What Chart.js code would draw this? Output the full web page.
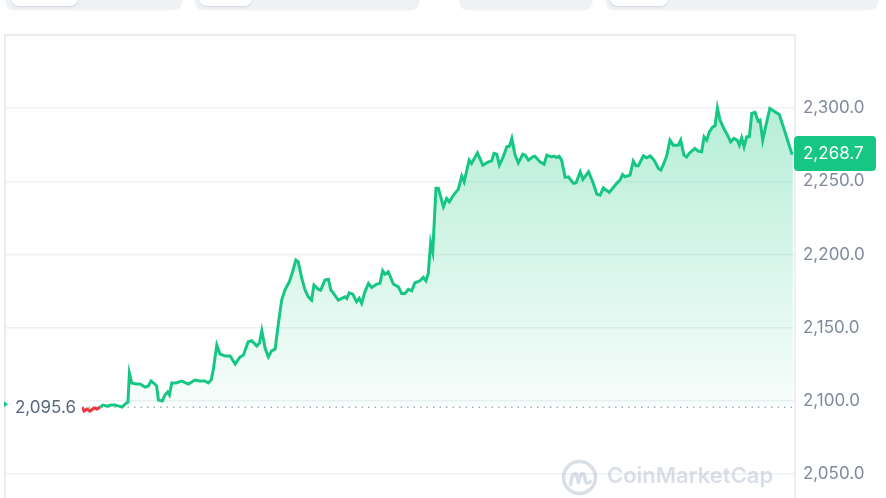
<!DOCTYPE html>
<html>
<head>
<meta charset="utf-8">
<script src="https://cdn.jsdelivr.net/npm/chart.js@4.4.1/dist/chart.umd.min.js"></script>
<style>
  body { margin: 0; background: #fff; font-family: Inter, "Noto Sans", sans-serif; }
  #wrap { position: relative; width: 886px; height: 498px; overflow: hidden; }
  canvas { position: absolute; left: 0; top: 0; }
  .pill { position: absolute; top: -20px; height: 29px; background: #eff2f5; border-radius: 8px; box-shadow: 0 1px 2px rgba(88,102,126,0.12); }
  .tab { position: absolute; top: -20px; height: 26px; background: #fff; border-radius: 8px; box-shadow: 0 1px 2px rgba(88,102,126,0.2); }
</style>
</head>
<body>
<div id="wrap">
  <canvas id="priceCanvas" width="886" height="498"></canvas>
  <div class="pill" style="left:6px;width:176px"></div>
  <div class="tab" style="left:11px;width:67px"></div>
  <div class="pill" style="left:195px;width:224px"></div>
  <div class="tab" style="left:199px;width:53px"></div>
  <div class="pill" style="left:460px;width:132px"></div>
  <div class="pill" style="left:606px;width:272px"></div>
  <div class="tab" style="left:610px;width:58px"></div>
</div>
<script>
// hours since open
const times = [
  0, 0.07, 0.17, 0.27, 0.41, 0.51, 0.61, 0.71, 0.84, 0.98,
  1.11, 1.25, 1.35, 1.49, 1.55, 1.60, 1.68, 1.82, 1.96, 2.13,
  2.24, 2.33, 2.46, 2.52, 2.58, 2.71, 2.80, 2.89, 2.95, 3.03,
  3.17, 3.37, 3.59, 3.81, 3.98, 4.15, 4.26, 4.36, 4.43, 4.55,
  4.66, 4.83, 5.00, 5.17, 5.33, 5.45, 5.61, 5.73, 5.90, 5.99,
  6.07, 6.18, 6.29, 6.40, 6.52, 6.63, 6.74, 6.85, 7.00, 7.11,
  7.22, 7.30, 7.42, 7.53, 7.64, 7.75, 7.83, 7.98, 8.06, 8.20,
  8.32, 8.40, 8.48, 8.65, 8.77, 8.88, 8.94, 9.02, 9.14, 9.27,
  9.36, 9.44, 9.55, 9.67, 9.78, 9.95, 10.06, 10.15, 10.23, 10.34,
  10.51, 10.68, 10.79, 10.90, 11.02, 11.13, 11.24, 11.41, 11.52, 11.61,
  11.69, 11.77, 11.84, 11.95, 12.03, 12.20, 12.31, 12.40, 12.54, 12.70,
  12.82, 12.90, 13.07, 13.15, 13.35, 13.53, 13.72, 13.83, 13.91, 14.00,
  14.09, 14.22, 14.34, 14.43, 14.51, 14.62, 14.73, 14.88, 14.96, 15.07,
  15.22, 15.29, 15.46, 15.60, 15.69, 15.86, 15.94, 16.03, 16.11, 16.19,
  16.31, 16.42, 16.59, 16.68, 16.82, 16.91, 17.10, 17.24, 17.38, 17.49,
  17.60, 17.80, 18.05, 18.16, 18.25, 18.33, 18.50, 18.61, 18.70, 18.78,
  18.95, 19.06, 19.18, 19.31, 19.46, 19.54, 19.62, 19.74, 19.85, 19.96,
  20.13, 20.21, 20.32, 20.41, 20.50, 20.69, 20.80, 20.92, 21.00, 21.09,
  21.18, 21.29, 21.37, 21.45, 21.54, 21.67, 21.82, 21.90, 22.01, 22.12,
  22.19, 22.27, 22.35, 22.44, 22.53, 22.61, 22.72, 22.83, 22.89, 22.98,
  23.09, 23.22, 23.39, 23.54, 23.73, 23.96, 24.00
];
const prices = [
  2095.6, 2093.0, 2094.4, 2093.0, 2095.1, 2094.4, 2095.8, 2097.1, 2096.4, 2097.1,
  2097.1, 2096.4, 2095.8, 2098.4, 2099.0, 2118.9, 2112.2, 2111.5, 2111.5, 2109.4,
  2110.1, 2113.5, 2111.5, 2110.1, 2100.5, 2099.9, 2104.0, 2106.0, 2104.0, 2112.2,
  2112.2, 2113.5, 2111.5, 2114.2, 2113.5, 2113.5, 2112.2, 2114.2, 2121.0, 2138.1,
  2132.0, 2130.6, 2130.6, 2125.1, 2129.9, 2131.3, 2140.4, 2141.1, 2137.4, 2139.5,
  2147.9, 2136.1, 2130.1, 2134.2, 2135.4, 2153.1, 2168.9, 2175.7, 2181.4, 2188.2,
  2196.2, 2195.0, 2183.7, 2175.7, 2171.1, 2168.9, 2179.1, 2176.2, 2175.7, 2182.5,
  2183.0, 2175.7, 2173.8, 2168.9, 2170.0, 2171.1, 2170.0, 2173.8, 2172.9, 2167.7,
  2170.0, 2166.6, 2174.5, 2180.3, 2177.5, 2179.8, 2180.3, 2188.9, 2186.6, 2188.2,
  2179.8, 2177.9, 2173.4, 2173.4, 2176.2, 2175.2, 2180.7, 2182.0, 2184.4, 2182.0,
  2187.1, 2208.0, 2201.8, 2245.2, 2245.2, 2232.6, 2238.3, 2236.0, 2240.6, 2244.5,
  2253.6, 2249.7, 2264.5, 2262.2, 2269.5, 2261.1, 2263.3, 2264.0, 2269.1, 2268.6,
  2261.1, 2266.7, 2273.6, 2274.0, 2279.3, 2267.9, 2262.6, 2268.6, 2267.9, 2264.5,
  2266.7, 2267.2, 2263.3, 2261.7, 2267.9, 2266.7, 2267.2, 2266.3, 2267.2, 2264.5,
  2252.7, 2253.1, 2248.6, 2249.0, 2256.5, 2251.3, 2256.5, 2249.7, 2241.3, 2240.6,
  2245.6, 2242.4, 2248.6, 2250.8, 2254.7, 2253.1, 2254.2, 2263.8, 2260.6, 2260.6,
  2267.4, 2266.1, 2267.4, 2264.5, 2258.8, 2257.7, 2261.1, 2267.4, 2278.1, 2274.7,
  2274.7, 2278.1, 2267.9, 2266.7, 2269.1, 2272.5, 2270.6, 2270.2, 2280.4, 2278.1,
  2283.8, 2287.2, 2287.9, 2300.2, 2291.8, 2286.1, 2280.4, 2277.0, 2279.3, 2278.1,
  2274.7, 2279.7, 2273.6, 2280.4, 2280.4, 2296.4, 2297.1, 2291.1, 2291.8, 2278.1,
  2288.4, 2299.8, 2297.5, 2295.7, 2283.8, 2269.1, 2268.7
];
const openPrice = 2095.6;
const lastPrice = 2268.7;
const yTicks = [2050, 2100, 2150, 2200, 2250, 2300];

const GREEN = '#16c784';
const RED = '#ea3943';

function fmt(v) {
    return v.toLocaleString('en-US', { minimumFractionDigits: 1, maximumFractionDigits: 1 });
}

const canvas = document.getElementById('priceCanvas');
const ctx = canvas.getContext('2d');
const greenFill = ctx.createLinearGradient(0, 100, 0, 407);
greenFill.addColorStop(0, 'rgba(22,199,132,0.32)');
greenFill.addColorStop(1, 'rgba(22,199,132,0.03)');

const n = Math.min(times.length, prices.length);
const priceData = [];
for (let i = 0; i < n; i++) priceData.push({ x: times[i], y: prices[i] });

const overlay = {
    id: 'overlay',
    beforeDatasetsDraw(chart) {
        const c = chart.ctx;
        // watermark
        c.save();
        c.strokeStyle = 'rgba(170,182,202,0.45)';
        c.fillStyle = 'rgba(170,182,202,0.45)';
        c.lineWidth = 3.5;
        c.lineCap = 'round';
        c.lineJoin = 'round';
        const cx = 579.5, cy = 477.5;
        c.beginPath();
        c.arc(cx, cy, 16, 0, Math.PI * 2);
        c.stroke();
        c.beginPath();
        c.moveTo(cx - 9, cy + 7);
        c.quadraticCurveTo(cx - 7, cy - 7, cx - 3, cy - 3);
        c.lineTo(cx - 1, cy + 5);
        c.quadraticCurveTo(cx + 2, cy - 8, cx + 5, cy - 2);
        c.lineTo(cx + 6, cy + 4);
        c.quadraticCurveTo(cx + 8, cy + 7, cx + 11, cy + 4);
        c.stroke();
        c.font = '600 22px Inter';
        c.textBaseline = 'alphabetic';
        c.fillText('CoinMarketCap', 607, 483);
        c.restore();
    },
    afterDraw(chart) {
        const c = chart.ctx;
        const a = chart.chartArea;
        const ys = chart.scales.y;
        c.save();
        // frame
        c.strokeStyle = '#e9ecf0';
        c.lineWidth = 2;
        c.beginPath();
        c.moveTo(a.left, a.bottom);
        c.lineTo(a.left, a.top);
        c.lineTo(a.right, a.top);
        c.stroke();

        // open price label
        const by = ys.getPixelForValue(openPrice);
        c.fillStyle = 'rgba(255,255,255,0.9)';
        c.fillRect(8, by - 11, 74, 20);
        c.fillStyle = GREEN;
        c.beginPath();
        c.moveTo(4, by - 6);
        c.lineTo(8, by - 3);
        c.lineTo(4, by);
        c.closePath();
        c.fill();
        c.font = '17px Inter';
        c.fillStyle = '#58667e';
        c.textBaseline = 'middle';
        c.textAlign = 'left';
        c.fillText(fmt(openPrice), 15, by + 1);

        // last price tag
        const ly = ys.getPixelForValue(lastPrice);
        c.fillStyle = GREEN;
        c.beginPath();
        c.roundRect(794, ly - 18, 82, 35, 4);
        c.fill();
        c.fillStyle = '#ffffff';
        c.font = '17px Inter';
        c.fillText(fmt(lastPrice), 803, ly);
        c.restore();
    }
};

new Chart(ctx, {
    type: 'line',
    data: {
        datasets: [
            {
                data: priceData,
                borderColor: GREEN,
                borderWidth: 3,
                pointRadius: 0,
                tension: 0,
                fill: { target: { value: openPrice }, above: greenFill, below: 'rgba(234,57,67,0.08)' },
                segment: {
                    borderColor: s => ((s.p0.parsed.y + s.p1.parsed.y) / 2 < openPrice ? RED : GREEN)
                }
            },
            {
                data: [{ x: times[0], y: openPrice }, { x: times[n - 1], y: openPrice }],
                borderColor: '#a6b0c3',
                borderWidth: 1.5,
                borderDash: [1.5, 5],
                pointRadius: 0,
                fill: false
            }
        ]
    },
    options: {
        responsive: false,
        animation: false,
        layout: { padding: { left: 5, top: 35, right: 0, bottom: 0 } },
        plugins: { legend: { display: false }, tooltip: { enabled: false } },
        scales: {
            x: { type: 'linear', min: -2.6, max: 24.07, display: false },
            y: {
                position: 'right',
                min: 2033.6,
                max: 2350,
                afterBuildTicks: scale => { scale.ticks = yTicks.map(v => ({ value: v })); },
                afterFit: scale => {
                    scale.width = 91;
                    scale.paddingTop = 0;
                    scale.paddingBottom = 0;
                },
                grid: { color: '#eff2f5', lineWidth: 1.5, drawTicks: false },
                border: { display: true, color: '#eceff3', width: 2 },
                ticks: {
                    padding: 8,
                    color: '#808a9d',
                    font: { family: 'Inter', size: 17 },
                    callback: v => fmt(v)
                }
            }
        }
    },
    plugins: [overlay]
});
</script>
</body>
</html>
